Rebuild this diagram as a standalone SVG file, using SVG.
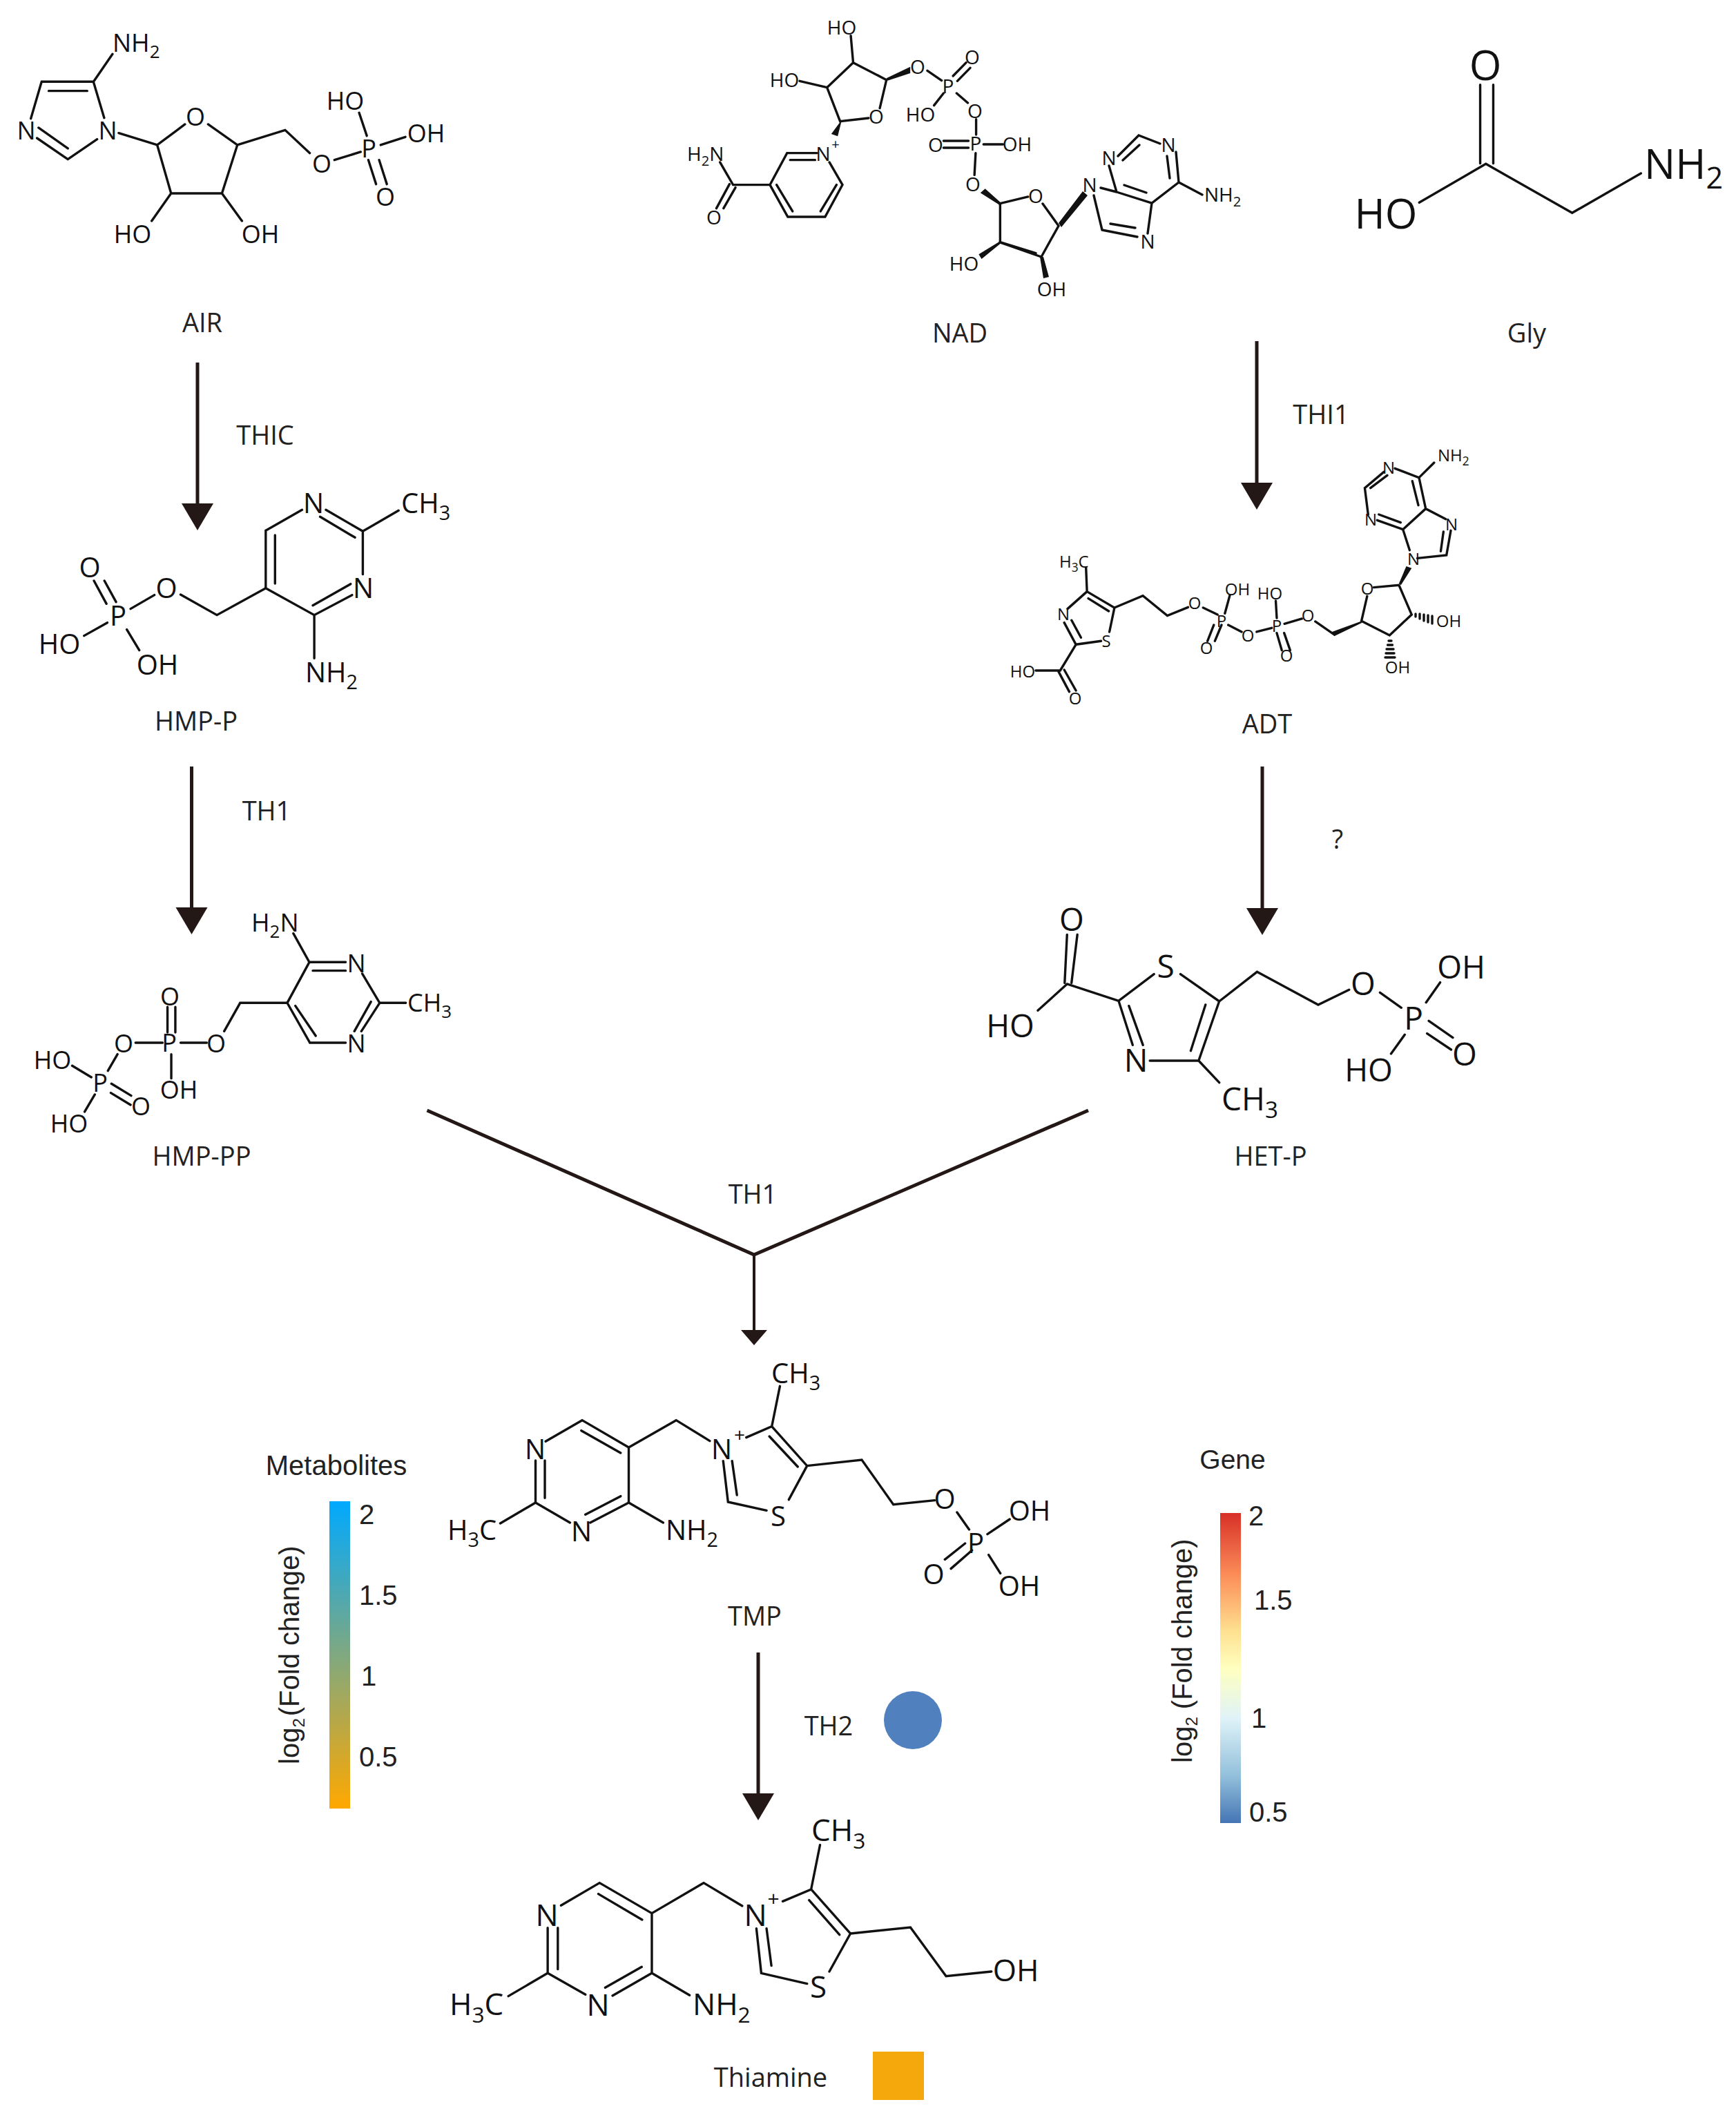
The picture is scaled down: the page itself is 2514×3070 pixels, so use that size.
<svg xmlns="http://www.w3.org/2000/svg" width="2514" height="3070" viewBox="0 0 2514 3070">
<style>
text{font-family:"Open Sans","Noto Sans",sans-serif;fill:#111;text-anchor:middle}
.st{text-anchor:start}
.b{fill:none;stroke:#111;stroke-width:3.400;stroke-linecap:round;vector-effect:non-scaling-stroke}
.w{fill:#111}
.c{stroke:#231815;stroke-width:5;fill:none}
.n{font-size:38px;fill:#222}
.f24{font-size:24px}.f28{font-size:28px}.f36{font-size:36px}.f40{font-size:40px}.f44{font-size:44px}.f46{font-size:46px}.f60{font-size:60px}
.s{font-size:72%}
.l{font-family:"Liberation Sans",Arial,sans-serif;font-size:40px;fill:#222}
.ls{text-anchor:start}
</style>
<defs>
<marker id="ah" markerUnits="userSpaceOnUse" markerWidth="40" markerHeight="48" refX="1" refY="24" orient="auto"><path d="M0 1L39 24L0 47z" fill="#231815"/></marker>
<marker id="ahs" markerUnits="userSpaceOnUse" markerWidth="24" markerHeight="40" refX="1" refY="20" orient="auto"><path d="M0 1L22 20L0 39z" fill="#231815"/></marker>
<linearGradient id="gm" x1="0" y1="0" x2="0" y2="1"><stop offset="0" stop-color="#00a9ff"/><stop offset="1" stop-color="#ffa800"/></linearGradient>
<linearGradient id="gg" x1="0" y1="0" x2="0" y2="1"><stop offset="0" stop-color="#d73027"/><stop offset=".2" stop-color="#fc8d59"/><stop offset=".38" stop-color="#fee090"/><stop offset=".5" stop-color="#ffffbf"/><stop offset=".66" stop-color="#e0f3f8"/><stop offset=".85" stop-color="#91bfdb"/><stop offset="1" stop-color="#4575b4"/></linearGradient>
</defs>
<rect width="2514" height="3070" fill="#fff"/>

<g id="connectors">
<path class="c" marker-end="url(#ah)" d="M286 525V730"/>
<path class="c" marker-end="url(#ah)" d="M277.500 1110V1315"/>
<path class="c" marker-end="url(#ah)" d="M1820 494V700"/>
<path class="c" marker-end="url(#ah)" d="M1828 1110V1316"/>
<path class="c" d="M618.500 1608L1092 1817L1576 1608"/>
<path class="c" style="stroke-width:4" marker-end="url(#ahs)" d="M1092 1817V1927"/>
<path class="c" marker-end="url(#ah)" d="M1098 2393V2598"/>
</g>

<g id="enzymes">
<text class="n" x="384" y="644">THIC</text>
<text class="n" x="386" y="1188">TH1</text>
<text class="n" x="1913" y="614">THI1</text>
<text class="n" x="1937" y="1229">?</text>
<text class="n" x="1090" y="1743">TH1</text>
<text class="n" x="1200" y="2513">TH2</text>
<circle id="th2-marker" cx="1322" cy="2491" r="42" fill="#5080bd"/>
</g>

<g id="AIR">
<path class="b" transform="scale(.4464,.3333)" d="M305 352L365 235M135 355H303M158 395H283M303 355L338 512M135 355L100 515M120 600L220 692M125 555L220 645M220 692L315 605M385 578L510 630L600 540M675 540L770 630L720 840H555L510 630M555 840L492 960M720 840L785 960M770 630L925 565L1005 665M1085 695L1170 660M1190 590L1165 490M1235 630L1315 595M1195 695L1220 800M1230 695L1255 800"/>
<text class="f36 st" x="163" y="75">NH<tspan class="s" dy="9">2</tspan></text>
<text class="f36" x="38" y="202">N</text><text class="f36" x="156" y="202">N</text>
<text class="f36" x="283" y="182">O</text><text class="f36" x="500" y="159">HO</text>
<text class="f36" x="617" y="206">OH</text><text class="f36" x="466" y="250">O</text>
<text class="f36" x="534" y="228">P</text><text class="f36" x="558" y="298">O</text>
<text class="f36" x="192" y="352">HO</text><text class="f36" x="377" y="352">OH</text>
<text class="n" x="293" y="481">AIR</text>
</g>

<g id="NAD">
<g transform="translate(960,0) scale(.3444,.3333)">
<path class="b" d="M800 272L790 155M800 272L940 347M800 272L690 380L745 527L865 513M940 347L912 470M575 352L690 380M1112 307L1172 350M1220 330L1275 272M1238 352L1292 295M1180 405L1140 458M1235 405L1282 447M1317 518V585M1180 612H1285M1180 642H1285M1348 627H1430M1315 665L1310 760M1415 885L1535 855M1418 885V1052L1568 1100M648 665H522L450 803L525 942H682L755 803L700 705M535 695H640M478 803L545 918M663 918L730 803M450 803H295L240 705M280 800L225 905M305 815L255 905"/>
<path class="w" d="M940 340L1040 290V318L945 350zM1415 890L1335 838L1355 820L1420 880zM1418 1048L1328 1105L1340 1125L1422 1056zM745 530L708 582L735 592L750 530z"/>
</g>
<path class="b" d="M1510 295L1533 327L1508 372L1448 351M1606 240L1617 278M1619 226L1649 196L1680 208M1626 232L1650 210M1703 220L1707 264L1668 294L1617 278M1690 226L1694 258M1628 268L1660 279M1668 294L1662 338M1647 343L1596 333M1644 330L1608 324M1596 333L1584 283M1594 272L1617 278M1707 264L1741 282"/>
<path class="w" d="M1533 323L1568 277L1575 283L1537 329zM1506 372L1511 403L1519 401L1511 372z"/>
<text class="f28" x="1219" y="50">HO</text><text class="f28" x="1136" y="126">HO</text>
<text class="f28" x="1329" y="107">O</text><text class="f28" x="1408" y="93">O</text>
<text class="f28" x="1373" y="135">P</text><text class="f28" x="1333" y="176">HO</text>
<text class="f28" x="1412" y="171">O</text><text class="f28" x="1413" y="218">P</text>
<text class="f28" x="1355" y="220">O</text><text class="f28" x="1473" y="219">OH</text>
<text class="f28" x="1409" y="277">O</text><text class="f28" x="1396" y="392">HO</text>
<text class="f28" x="1269" y="179">O</text><text class="f28" x="1192" y="233">N</text>
<text style="font-size:20px" x="1210" y="216">+</text>
<text class="f28 st" x="995" y="233">H<tspan class="s" dy="7">2</tspan><tspan dy="-7">N</tspan></text>
<text class="f28" x="1034" y="325">O</text><text class="f28" x="1500" y="294">O</text>
<text class="f28" x="1606" y="239">N</text><text class="f28" x="1692" y="220">N</text>
<text class="f28" x="1578" y="278">N</text><text class="f28" x="1662" y="360">N</text>
<text class="f28 st" x="1744" y="292">NH<tspan class="s" dy="7">2</tspan></text>
<text class="f28" x="1523" y="429">OH</text>
<text class="n" x="1390" y="496">NAD</text>
</g>

<g id="Gly">
<path class="b" transform="translate(1940,40) scale(.3571,.3333)" d="M570 248V590M623 248V590M323 760L593 592L943 805L1222 633"/>
<text class="f60" x="2151" y="116">O</text>
<text class="f60" x="2007" y="331">HO</text>
<text class="f60 st" x="2381" y="259">NH<tspan class="s" dy="14">2</tspan></text>
<text class="n" x="2211" y="496">Gly</text>
</g>

<g id="ADT">
<g transform="translate(1420,640) scale(.4847,.3333)">
<path class="b" d="M315 545L318 650L260 725M318 650L400 720L385 825M322 680L383 735M360 865L285 880L250 785M300 850L272 775M285 880L238 993H165M232 995L265 1085M250 990L285 1080M400 720L485 668L558 755L620 718M665 720L708 750M730 745L745 665M697 795L678 865M720 795L700 865M740 795L780 825M825 825L870 808M885 765L882 690M885 830L900 905M907 830L925 905M908 790L960 768M1000 780L1058 838M1138 778L1155 670M1175 632L1250 622L1288 750L1222 840L1138 778M1305 505L1392 492L1405 385M1375 475L1383 390M1390 335L1330 290L1262 380L1282 470M1262 380L1185 340M1255 350L1190 315M1158 315L1148 200L1205 130M1165 200L1215 145M1238 115L1310 155L1330 290M1290 170L1308 275M1310 155L1355 90"/>
<path class="w" d="M1135 780L1050 825L1062 840L1140 785zM1250 615L1272 540L1288 548L1256 622z"/>
</g>
<path class="b" d="M2050 889v4M2056 889v7M2062 890v9M2068 891v10M2074 892v11M2011 928h4M2009.500 934h7M2008 940h10M2007 946h12M2006 952h14"/>
<text class="f24 st" x="2082" y="668">NH<tspan class="s" dy="6">2</tspan></text>
<text class="f24" x="2011" y="686">N</text><text class="f24" x="1985" y="761">N</text>
<text class="f24" x="2102" y="768">N</text><text class="f24" x="2047" y="818">N</text>
<text class="f24" x="1980" y="861">O</text><text class="f24" x="2098" y="908">OH</text>
<text class="f24" x="2024" y="975">OH</text><text class="f24" x="1894" y="900">O</text>
<text class="f24" x="1839" y="868">HO</text><text class="f24" x="1849" y="915">P</text>
<text class="f24" x="1863" y="958">O</text><text class="f24" x="1807" y="929">O</text>
<text class="f24" x="1769" y="908">P</text><text class="f24" x="1792" y="862">OH</text>
<text class="f24" x="1747" y="947">O</text><text class="f24" x="1730" y="882">O</text>
<text class="f24" x="1602" y="937">S</text><text class="f24" x="1540" y="898">N</text>
<text class="f24 st" x="1534" y="822">H<tspan class="s" dy="6">3</tspan><tspan dy="-6">C</tspan></text>
<text class="f24" x="1481" y="981">HO</text><text class="f24" x="1557" y="1020">O</text>
<text class="n" x="1835" y="1062">ADT</text>
</g>

<g id="HMP-P">
<path class="b" transform="translate(30,680) scale(.4209,.3333)" d="M968 175L843 265V515L1010 632L1140 545M875 285V495M1005 590L1135 497M1177 455V268L1050 175M1150 295L1030 205M1177 268L1300 178M1010 632V820M843 515L675 632L550 543M460 545L378 605M328 575L288 483M295 583L252 483M298 665L218 722M365 695L408 785"/>
<text class="f40" x="454" y="743">N</text>
<text class="f40 st" x="581" y="743">CH<tspan class="s" dy="10">3</tspan></text>
<text class="f40" x="526" y="866">N</text><text class="f40" x="241" y="866">O</text>
<text class="f40" x="130" y="836">O</text><text class="f40" x="171" y="906">P</text>
<text class="f40" x="86" y="947">HO</text><text class="f40" x="228" y="977">OH</text>
<text class="f40 st" x="442" y="988">NH<tspan class="s" dy="10">2</tspan></text>
<text class="n" x="284" y="1058">HMP-P</text>
</g>

<g id="HMP-PP">
<path class="b" transform="translate(30,1300) scale(.4209,.3333)" d="M938 155L993 280H1118M1005 317H1118M1175 330L1235 457H1325M1235 457L1172 580M1205 452L1148 580M1118 630H995L917 457L993 280M945 470L1015 600M917 457H755L700 580M640 630H550M488 630H395M505 585V475M532 585V475M518 680V785M333 680L300 752M177 730L243 780M312 808L380 860M310 848L378 900M255 855L220 930"/>
<text class="f36 st" x="364" y="1349">H<tspan class="s" dy="9">2</tspan><tspan dy="-9">N</tspan></text>
<text class="f36" x="516" y="1408">N</text>
<text class="f36 st" x="590" y="1465">CH<tspan class="s" dy="9">3</tspan></text>
<text class="f36" x="516" y="1524">N</text><text class="f36" x="313" y="1524">O</text>
<text class="f36" x="245" y="1523">P</text><text class="f36" x="179" y="1524">O</text>
<text class="f36" x="246" y="1456">O</text><text class="f36" x="259" y="1591">OH</text>
<text class="f36" x="76" y="1548">HO</text><text class="f36" x="145" y="1581">P</text>
<text class="f36" x="204" y="1615">O</text><text class="f36" x="100" y="1640">HO</text>
<text class="n" x="292" y="1688">HMP-PP</text>
</g>

<g id="HET-P">
<path class="b" transform="translate(1400,1300) scale(.4975,.3333)" d="M545 332L442 448L292 375M285 370L292 160M305 370L322 160M292 375L207 490M442 448L483 640M472 470L513 640M533 708H675L735 450L622 332M652 665L695 465M735 450L845 322L1023 465L1113 400M1203 412L1265 478M1337 455L1378 368M1275 595L1235 678M1345 535L1415 608M1340 590L1410 660M675 708L735 803"/>
<text class="f46" x="1552" y="1348">O</text><text class="f46" x="1688" y="1416">S</text>
<text class="f46" x="1463" y="1502">HO</text><text class="f46" x="1645" y="1552">N</text>
<text class="f46 st" x="1769" y="1608">CH<tspan class="s" dy="11">3</tspan></text>
<text class="f46" x="1974" y="1441">O</text><text class="f46" x="2047" y="1491">P</text>
<text class="f46" x="2116" y="1417">OH</text><text class="f46" x="2121" y="1543">O</text>
<text class="f46" x="1982" y="1566">HO</text>
<text class="n" x="1840" y="1688">HET-P</text>
</g>

<g id="TMP">
<path class="b" transform="translate(620,1950) scale(.5869,.3333)" d="M290 412L380 320L495 438V678L400 765M378 365L475 462M475 650L388 730M495 678L580 765M350 765L265 678V495M288 658V495M265 678L178 768M495 438L612 320L695 410M785 395L848 347L868 172M848 347L935 518L890 665M842 390L912 522M835 712L740 675L728 497M762 645L750 497M935 518L1070 492L1148 686L1250 668M1305 720L1335 795M1380 815L1435 750M1383 905L1412 985M1325 855L1275 925M1342 885L1290 965"/>
<text class="f40 st" x="1117" y="2003">CH<tspan class="s" dy="10">3</tspan></text>
<text class="f40" x="775" y="2113">N</text><text class="f40" x="1045" y="2113">N</text>
<text style="font-size:28px" x="1071" y="2088">+</text>
<text class="f40" x="1127" y="2210">S</text><text class="f40" x="842" y="2232">N</text>
<text class="f40 st" x="648" y="2230">H<tspan class="s" dy="10">3</tspan><tspan dy="-10">C</tspan></text>
<text class="f40 st" x="964" y="2230">NH<tspan class="s" dy="10">2</tspan></text>
<text class="f40" x="1368" y="2185">O</text><text class="f40" x="1491" y="2202">OH</text>
<text class="f40" x="1413" y="2249">P</text><text class="f40" x="1352" y="2294">O</text>
<text class="f40" x="1476" y="2311">OH</text>
<text class="n" x="1093" y="2354">TMP</text>
</g>

<g id="Thiamine">
<path class="b" transform="translate(620,2600) scale(.5869,.3333)" d="M328 478L423 380L552 512V772L455 870M420 428L528 540M527 745L437 835M552 772L645 868M388 865L295 772V575M320 755V575M295 772L198 872M552 512L680 380L775 480M875 460L945 408L967 215M945 408L1042 600L990 765M940 455L1015 605M935 818L822 772L810 578M847 740L835 578M1042 600L1190 573L1278 785L1390 765"/>
<text class="f44 st" x="1175" y="2666">CH<tspan class="s" dy="11">3</tspan></text>
<text class="f44" x="792" y="2789">N</text><text class="f44" x="1094" y="2789">N</text>
<text style="font-size:30px" x="1120" y="2760">+</text>
<text class="f44" x="1185" y="2893">S</text><text class="f44" x="866" y="2919">N</text>
<text class="f44 st" x="651" y="2918">H<tspan class="s" dy="11">3</tspan><tspan dy="-11">C</tspan></text>
<text class="f44 st" x="1003" y="2918">NH<tspan class="s" dy="11">2</tspan></text>
<text class="f44" x="1471" y="2869">OH</text>
<text class="n" x="1116" y="3022">Thiamine</text>
<rect id="thiamine-marker" x="1264" y="2971" width="74" height="70" fill="#f5a80c"/>
</g>

<g id="legend-metabolites">
<text class="l" style="font-size:40px" x="487" y="2136">Metabolites</text>
<rect x="477" y="2174" width="30" height="445" fill="url(#gm)"/>
<text class="l ls" x="520" y="2207">2</text><text class="l ls" x="520" y="2324">1.5</text>
<text class="l ls" x="523" y="2441">1</text><text class="l ls" x="520" y="2558">0.5</text>
<text class="l ls" transform="translate(433,2555) rotate(-90)">log<tspan style="font-size:24px" dy="8">2</tspan><tspan dy="-8" dx="3">(Fold change)</tspan></text>
</g>

<g id="legend-gene">
<text class="l" style="font-size:39px" x="1785" y="2127">Gene</text>
<rect x="1767" y="2191" width="30" height="449" fill="url(#gg)"/>
<text class="l ls" x="1808" y="2209">2</text><text class="l ls" x="1816" y="2331">1.5</text>
<text class="l ls" x="1812" y="2502">1</text><text class="l ls" x="1809" y="2638">0.5</text>
<text class="l ls" transform="translate(1726,2553) rotate(-90)">log<tspan style="font-size:24px" dy="8">2</tspan><tspan dy="-8"> (Fold change)</tspan></text>
</g>
</svg>
